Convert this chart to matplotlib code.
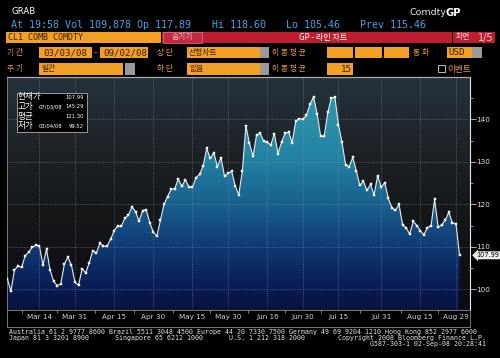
import matplotlib
matplotlib.use("Agg")
import matplotlib.pyplot as plt
import numpy as np
import pandas as pd
from matplotlib.colors import LinearSegmentedColormap
from matplotlib.patches import Rectangle

KR = ["Noto Sans CJK KR", "DejaVu Sans"]
MONO = "DejaVu Sans Mono"

# trading days, NYMEX closed on these
HOLIDAYS = ["2008-03-21", "2008-05-26", "2008-07-04", "2008-09-01"]

prices = [
    # March
    102.45, 99.52, 104.52, 105.47, 105.15, 107.90, 108.75, 109.92, 110.33, 110.21,
    105.68, 109.42, 104.48, 101.84, 100.86, 101.22, 105.90, 107.58, 105.62, 101.58,
    # April
    100.98, 104.83, 103.83, 106.23, 109.09, 108.50, 110.87, 110.11, 110.14, 111.76,
    113.79, 114.93, 114.86, 116.69, 117.48, 119.37, 118.30, 116.06, 118.52, 118.75,
    115.63, 113.46,
    # May
    112.52, 116.32, 119.97, 121.84, 123.53, 123.69, 125.96, 124.23, 125.80, 124.12,
    124.12, 126.29, 127.05, 129.07, 133.17, 130.81, 132.19, 128.85, 131.03, 126.62,
    127.35,
    # June
    127.76, 124.31, 122.30, 127.79, 138.54, 134.35, 131.31, 136.38, 136.74, 134.86,
    134.61, 134.01, 136.68, 131.93, 134.62, 136.74, 137.00, 134.55, 139.64, 140.21,
    140.00,
    # July
    140.97, 143.57, 145.29, 141.37, 136.04, 136.05, 141.65, 145.08, 145.18, 138.74,
    134.60, 129.29, 128.88, 131.04, 127.95, 124.44, 125.49, 123.26, 124.73, 122.19,
    126.77, 124.08,
    # August
    125.10, 121.41, 119.17, 118.58, 120.02, 115.20, 114.45, 113.01, 116.00, 115.01,
    113.77, 112.87, 114.53, 114.98, 121.18, 114.59, 115.16, 116.27, 118.15, 115.59,
    115.46,
    # Sep 2 (intraday)
    107.99,
]

tick_dates = ["2008-03-14", "2008-03-31", "2008-04-15", "2008-04-30", "2008-05-15",
              "2008-05-30", "2008-06-16", "2008-06-30", "2008-07-15", "2008-07-31",
              "2008-08-15", "2008-08-29"]
tick_labels = ["Mar 14", "Mar 31", "Apr 15", "Apr 30", "May 15", "May 30",
               "Jun 16", "Jun 30", "Jul 15", "Jul 31", "Aug 15", "Aug 29"]
y_ticks = [100, 110, 120, 130, 140]
y_minor = [105, 115, 125, 135, 145]

legend_rows = [("현재가", "", "107.99"), ("고가", "07/03/08", "145.29"),
               ("평균", "", "121.30"), ("저가", "03/04/08", "99.52")]

ORANGE = "#f3a024"
LABEL = "#e39b45"
RED = "#bd1d2e"
BOXTXT = "#3a1c00"
GRAY = "#9a9a9a"


dates = pd.bdate_range("2008-03-03", "2008-09-02")
dates = dates[~dates.isin(pd.to_datetime(HOLIDAYS))]
x = np.arange(len(dates))
tick_idx = [dates.get_loc(pd.Timestamp(d)) for d in tick_dates]
minor_idx = [tick_idx[0] - (tick_idx[1] - tick_idx[0]) / 2]
minor_idx += [(a + b) / 2 for a, b in zip(tick_idx[:-1], tick_idx[1:])]

fig = plt.figure(figsize=(5, 3.58), dpi=100, facecolor="black")

# ---- price chart ----
ax = fig.add_axes([7 / 500, 48 / 358, 462.5 / 500, 233 / 358], zorder=2)
ax.set_facecolor("black")
xlim = (-0.1, 129.8)
ylim = (95.1, 150.0)

bg_cmap = LinearSegmentedColormap.from_list(
    "bg", [(0, "#0a0b14"), (0.4, "#151719"), (0.7, "#1d2328"), (1, "#25323b")])
ax.imshow(np.linspace(0, 1, 256).reshape(-1, 1), cmap=bg_cmap, origin="lower",
          extent=[xlim[0], xlim[1], ylim[0], ylim[1]], aspect="auto", zorder=0)

fill_cmap = LinearSegmentedColormap.from_list(
    "fill", [(0, "#07123f"), (0.1, "#0a1d55"), (0.3, "#113f78"), (0.45, "#19608e"),
             (0.65, "#2381a3"), (0.82, "#2a90aa"), (1, "#33a0b6")])
img = ax.imshow(np.linspace(0, 1, 256).reshape(-1, 1), cmap=fill_cmap, origin="lower",
                extent=[xlim[0], xlim[1], ylim[0], ylim[1]], aspect="auto", zorder=1)
poly = ax.fill_between(x, prices, ylim[0], facecolor="none", edgecolor="none")
img.set_clip_path(poly.get_paths()[0], transform=ax.transData)

ax.plot(x, prices, color="#e6edf2", lw=0.8, marker="s", ms=2.0,
        mfc="white", mec="white", mew=0.3, zorder=4)

ax.set_xlim(xlim)
ax.set_ylim(ylim)

ax.set_xticks(tick_idx)
ax.set_xticklabels(tick_labels)
ax.set_xticks(minor_idx, minor=True)
ax.tick_params(axis="x", which="major", length=0, pad=3, labelsize=5.2,
               labelcolor="#d0d0d0")
ax.tick_params(axis="x", which="minor", length=2.5, width=0.5, color="#bbbbbb",
               direction="out")

ax.yaxis.tick_right()
ax.set_yticks(y_ticks)
ax.set_yticks(y_minor, minor=True)
ax.tick_params(axis="y", which="major", length=4, width=0.6, color="#cccccc",
               pad=1, labelsize=5.2, labelcolor="#e0e0e0")
ax.tick_params(axis="y", which="minor", length=2, width=0.5, color="#cccccc")

ax.grid(True, which="major", color="#9aa3a8", lw=0.5, linestyle=(0, (1, 2)),
        alpha=0.8)
ax.set_axisbelow(False)
for gl in ax.get_xgridlines() + ax.get_ygridlines():
    gl.set_zorder(3)

for side in ["top", "bottom", "left"]:
    ax.spines[side].set_color("#8c8c8c")
    ax.spines[side].set_linewidth(0.6)
ax.spines["top"].set_color("#a8a8a8")
ax.spines["top"].set_linewidth(0.9)
ax.spines["right"].set_color("#e8e8e8")
ax.spines["right"].set_linewidth(0.8)

ax.annotate(f"{prices[-1]:.2f}", xy=(1, prices[-1]), xycoords=ax.get_yaxis_transform(),
            xytext=(5, 0), textcoords="offset points", ha="left", va="center",
            fontsize=4.8, color="black", annotation_clip=False,
            bbox=dict(boxstyle="larrow,pad=0.15", fc="#eeeeee", ec="none"))

# ---- overlay in pixel coords: header, legend, footer ----
ov = fig.add_axes([0, 0, 1, 1], zorder=5)
ov.set_facecolor("none")
ov.set_xlim(0, 500)
ov.set_ylim(358, 0)
ov.axis("off")


def box(x0, y0, x1, y1, fc, ec="none", lw=0.6):
    ov.add_patch(Rectangle((x0, y0), x1 - x0, y1 - y0, fc=fc, ec=ec, lw=lw))


def txt(x0, y0, s, size, color, ha="left", **kw):
    ov.text(x0, y0, s, fontsize=size, color=color, ha=ha, va="center", **kw)


# row 1
txt(11, 12, "GRAB", 6.2, "white")
ov.text(409, 12.5, "Comdty", fontsize=6.8, color="#e6e6e6", va="center")
ov.text(446, 12.5, "GP", fontsize=7.2, color="white", va="center", fontweight="bold")

# row 2
BLUE = "#47a3e6"
txt(11, 25, "At 19:58 Vol 109,878 Op 117.89", 7.2, BLUE, family=MONO)
txt(212, 25, "Hi 118.60", 7.2, BLUE, family=MONO)
txt(286.5, 25, "Lo 105.46", 7.2, BLUE, family=MONO)
txt(360, 25, "Prev 115.46", 7.2, BLUE, family=MONO)

# row 3
box(6, 31.7, 161, 43.3, ORANGE)
txt(7.5, 37.6, "CL1 COMB COMDTY", 6.0, BOXTXT, family=MONO)
box(162, 31.7, 451.5, 43.3, RED)
box(162.5, 32.2, 201.5, 42.8, "#c42a3e", ec="#e27486", lw=0.5)
txt(182, 37.4, "숨기기", 5.6, "#f6c2cc", ha="center", family=KR)
txt(323, 37.4, "GP - 라인 차트", 5.8, "white", ha="center", family=KR)
box(453, 31.7, 495, 43.3, RED)
txt(456, 37.4, "화면", 5.6, "#f4d0d6", family=KR)
txt(494, 37.6, "1/5", 7.0, "#f4d0d6", ha="right")

# row 4
r4 = (46.7, 58.3)
c4 = sum(r4) / 2
txt(7, c4, "기 간", 5.6, LABEL, family=KR)
box(39, r4[0], 91.7, r4[1], ORANGE)
txt(43, c4 + 0.3, "03/03/08", 6.6, BOXTXT, family=MONO)
txt(95.5, c4, "-", 6.6, LABEL, ha="center", family=MONO)
box(100, r4[0], 148.3, r4[1], ORANGE)
txt(103, c4 + 0.3, "09/02/08", 6.6, BOXTXT, family=MONO)
txt(157, c4, "상 단", 5.6, LABEL, family=KR)
box(186.7, r4[0], 260, r4[1], ORANGE)
box(260, r4[0], 269, r4[1], GRAY)
txt(189, c4, "선형차트", 5.6, BOXTXT, family=KR)
txt(272, c4, "이 동 평 균", 5.6, LABEL, family=KR)
for bx0, bx1 in [(327.3, 353.3), (355.3, 382), (384, 409.3)]:
    box(bx0, r4[0], bx1, r4[1], ORANGE)
txt(413, c4, "통 화", 5.6, LABEL, family=KR)
box(446.7, r4[0], 471.7, r4[1], ORANGE)
box(471.7, r4[0], 481.7, r4[1], GRAY)
txt(448, c4 + 0.3, "USD", 6.6, BOXTXT, family=MONO)

# row 5
r5 = (63.3, 75)
c5 = sum(r5) / 2
txt(7, c5, "주 기", 5.6, LABEL, family=KR)
box(39, r5[0], 123.3, r5[1], ORANGE)
box(123.3, r5[0], 125.3, r5[1], "black")
box(125.3, r5[0], 135, r5[1], GRAY)
txt(41, c5, "일간", 5.6, BOXTXT, family=KR)
txt(157, c5, "하 단", 5.6, LABEL, family=KR)
box(186.7, r5[0], 260, r5[1], ORANGE)
box(260, r5[0], 269, r5[1], GRAY)
txt(189, c5, "없음", 5.6, BOXTXT, family=KR)
txt(272, c5, "이 동 평 균", 5.6, LABEL, family=KR)
box(327.3, r5[0], 353.3, r5[1], ORANGE)
txt(352, c5 + 0.3, "15", 6.6, BOXTXT, ha="right", family=MONO)
box(438.3, 65, 445, 71.7, "none", ec="#dddddd", lw=0.6)
txt(447, c5, "이벤트", 6.2, LABEL, family=KR)

# legend box inside chart
box(17, 92.7, 87, 131.7, "black", ec="#b0b0b0", lw=0.6)
for i, (lab, day, val) in enumerate(legend_rows):
    yy = 97 + i * 9.6
    txt(18, yy, lab, 6.2, "white", family=KR)
    if day:
        txt(38.5, yy + 0.4, day, 3.8, "white")
    txt(84, yy + 0.4, val, 3.8, "white", ha="right")

# lower frame around date labels
ov.plot([7, 7, 469.5, 469.5], [310, 327, 327, 310], color="#8c8c8c", lw=0.6)

# footer
FOOT = "#e4e4e4"
FS = 4.75
txt(9, 331.7, "Australia 61 2 9777 8600 Brazil 5511 3048 4500 Europe 44 20 7330 7500 "
    "Germany 49 69 9204 1210 Hong Kong 852 2977 6000", FS, FOOT, family=MONO)
txt(9, 337.7, "Japan 81 3 3201 8900", FS, FOOT, family=MONO)
txt(115, 337.7, "Singapore 65 6212 1000", FS, FOOT, family=MONO)
txt(229, 337.7, "U.S. 1 212 318 2000", FS, FOOT, family=MONO)
txt(486, 337.7, "Copyright 2008 Bloomberg Finance L.P.", FS, FOOT, ha="right", family=MONO)
txt(486, 343.6, "G587-303-1 02-Sep-08 20:28:41", FS, FOOT, ha="right", family=MONO)

fig.savefig("out.png", dpi=100, facecolor="black")
